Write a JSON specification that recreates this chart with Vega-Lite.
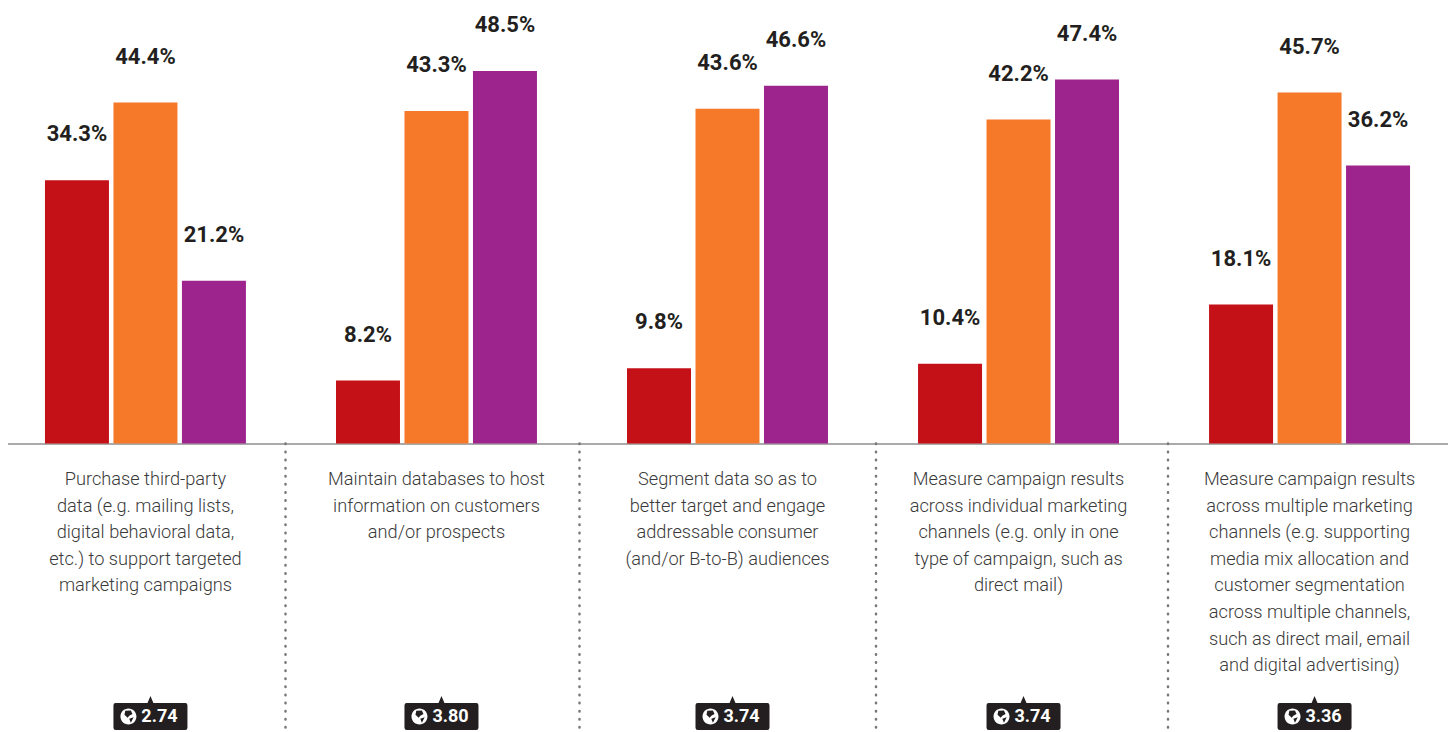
{
"$schema":"https://vega.github.io/schema/vega-lite/v6.json",
"width":1440,"height":443.6,
"padding":{"left":7.5,"top":0,"right":2.5,"bottom":288.4},
"autosize":{"type":"none"},
"background":"white",
"config":{"view":{"stroke":null}},
"datasets":{
"bars":[
{"group":"Purchase third-party\ndata (e.g. mailing lists,\ndigital behavioral data,\netc.) to support targeted\nmarketing campaigns","series":"A","value":34.3,"label":"34.3%"},
{"group":"Purchase third-party\ndata (e.g. mailing lists,\ndigital behavioral data,\netc.) to support targeted\nmarketing campaigns","series":"B","value":44.4,"label":"44.4%"},
{"group":"Purchase third-party\ndata (e.g. mailing lists,\ndigital behavioral data,\netc.) to support targeted\nmarketing campaigns","series":"C","value":21.2,"label":"21.2%"},
{"group":"Maintain databases to host\ninformation on customers\nand/or prospects","series":"A","value":8.2,"label":"8.2%"},
{"group":"Maintain databases to host\ninformation on customers\nand/or prospects","series":"B","value":43.3,"label":"43.3%"},
{"group":"Maintain databases to host\ninformation on customers\nand/or prospects","series":"C","value":48.5,"label":"48.5%"},
{"group":"Segment data so as to\nbetter target and engage\naddressable consumer\n(and/or B-to-B) audiences","series":"A","value":9.8,"label":"9.8%"},
{"group":"Segment data so as to\nbetter target and engage\naddressable consumer\n(and/or B-to-B) audiences","series":"B","value":43.6,"label":"43.6%"},
{"group":"Segment data so as to\nbetter target and engage\naddressable consumer\n(and/or B-to-B) audiences","series":"C","value":46.6,"label":"46.6%"},
{"group":"Measure campaign results\nacross individual marketing\nchannels (e.g. only in one\ntype of campaign, such as\ndirect mail)","series":"A","value":10.4,"label":"10.4%"},
{"group":"Measure campaign results\nacross individual marketing\nchannels (e.g. only in one\ntype of campaign, such as\ndirect mail)","series":"B","value":42.2,"label":"42.2%"},
{"group":"Measure campaign results\nacross individual marketing\nchannels (e.g. only in one\ntype of campaign, such as\ndirect mail)","series":"C","value":47.4,"label":"47.4%"},
{"group":"Measure campaign results\nacross multiple marketing\nchannels (e.g. supporting\nmedia mix allocation and\ncustomer segmentation\nacross multiple channels,\nsuch as direct mail, email\nand digital advertising)","series":"A","value":18.1,"label":"18.1%"},
{"group":"Measure campaign results\nacross multiple marketing\nchannels (e.g. supporting\nmedia mix allocation and\ncustomer segmentation\nacross multiple channels,\nsuch as direct mail, email\nand digital advertising)","series":"B","value":45.7,"label":"45.7%"},
{"group":"Measure campaign results\nacross multiple marketing\nchannels (e.g. supporting\nmedia mix allocation and\ncustomer segmentation\nacross multiple channels,\nsuch as direct mail, email\nand digital advertising)","series":"C","value":36.2,"label":"36.2%"}
],
"scores":[
{"group":"Purchase third-party\ndata (e.g. mailing lists,\ndigital behavioral data,\netc.) to support targeted\nmarketing campaigns","score":"2.74","level":-35.53},
{"group":"Maintain databases to host\ninformation on customers\nand/or prospects","score":"3.80","level":-35.53},
{"group":"Segment data so as to\nbetter target and engage\naddressable consumer\n(and/or B-to-B) audiences","score":"3.74","level":-35.53},
{"group":"Measure campaign results\nacross individual marketing\nchannels (e.g. only in one\ntype of campaign, such as\ndirect mail)","score":"3.74","level":-35.53},
{"group":"Measure campaign results\nacross multiple marketing\nchannels (e.g. supporting\nmedia mix allocation and\ncustomer segmentation\nacross multiple channels,\nsuch as direct mail, email\nand digital advertising)","score":"3.36","level":-35.53}
],
"separators":[
{"pos":278,"from":0,"to":-37.5},
{"pos":572,"from":0,"to":-37.5},
{"pos":868.5,"from":0,"to":-37.5},
{"pos":1160.5,"from":0,"to":-37.5}
]
},
"layer":[
{
"layer":[
{
"data":{"name":"bars"},
"mark":{"type":"bar"},
"encoding":{
"x":{"field":"group","type":"nominal","sort":null,"title":null,
"scale":{"paddingInner":0.052,"paddingOuter":0},
"axis":{"labelExpr":"split(datum.label,'\\n')","labelAngle":0,"labelAlign":"center","labelBaseline":"top","labelFont":"Roboto","labelFontWeight":300,"labelFontSize":18.2,"labelColor":"#3a3a3a","labelLineHeight":26.6,"labelPadding":27,"labelLimit":0,"labelOverlap":false,"ticks":false,"domainColor":"#aaaaaa","domainWidth":2,"grid":false}},
"xOffset":{"field":"series","type":"nominal","scale":{"paddingInner":0.0657,"paddingOuter":0.547}},
"y":{"field":"value","type":"quantitative","scale":{"domain":[0,57.76],"nice":false,"zero":false},"axis":null},
"color":{"field":"series","type":"nominal","scale":{"domain":["A","B","C"],"range":["#c41117","#f6792a","#9c248c"]},"legend":null}
}
},
{
"data":{"name":"bars"},
"mark":{"type":"text","font":"Roboto","fontWeight":"bold","fontSize":22,"color":"#231f20","baseline":"middle","dy":-46},
"encoding":{
"x":{"field":"group","type":"nominal","sort":null},
"xOffset":{"field":"series","type":"nominal"},
"y":{"field":"value","type":"quantitative"},
"text":{"field":"label","type":"nominal"}
}
},
{
"data":{"name":"scores"},
"mark":{"type":"point","filled":true,"opacity":1,"color":"#231f20","size":5476,"xOffset":5,"shape":"M-.94,-.365L-.08,-.365L0,-.55L.08,-.365L.94,-.365Q1,-.365 1,-.305L1,.305Q1,.365 .94,.365L-.94,.365Q-1,.365 -1,.305L-1,-.305Q-1,-.365 -.94,-.365Z"},
"encoding":{
"x":{"field":"group","type":"nominal","sort":null},
"y":{"field":"level","type":"quantitative"}
}
},
{
"data":{"name":"scores"},
"mark":{"type":"point","filled":true,"opacity":1,"color":"white","size":256,"xOffset":-17,"shape":"M-1,0A1,1 0 1,1 1,0A1,1 0 1,1 -1,0ZM-.5,-.2L-.1,.15L.1,-.1L.5,-.3L.3,-.75L-.4,-.7ZM.1,.3L.3,.8L.65,.1Z"},
"encoding":{
"x":{"field":"group","type":"nominal","sort":null},
"y":{"field":"level","type":"quantitative"}
}
},
{
"data":{"name":"scores"},
"mark":{"type":"text","font":"Roboto","fontWeight":"bold","fontSize":18,"color":"white","baseline":"middle","align":"center","dx":14,"dy":1},
"encoding":{
"x":{"field":"group","type":"nominal","sort":null},
"y":{"field":"level","type":"quantitative"},
"text":{"field":"score","type":"nominal"}
}
}
]
},
{
"data":{"name":"separators"},
"mark":{"type":"rule","color":"#777777","strokeWidth":2.5,"strokeDash":[0.5,7.6],"strokeCap":"round"},
"encoding":{
"x":{"field":"pos","type":"quantitative","scale":{"domain":[0,1440],"nice":false},"axis":null},
"y":{"field":"from","type":"quantitative"},
"y2":{"field":"to"}
}
}
],
"resolve":{"scale":{"x":"independent"}}
}
